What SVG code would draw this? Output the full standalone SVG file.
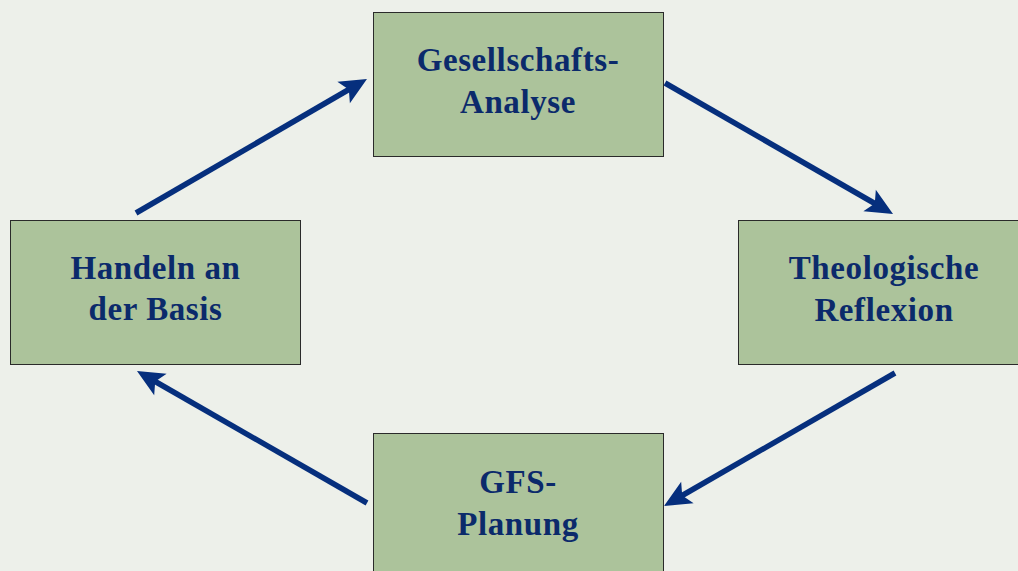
<svg xmlns="http://www.w3.org/2000/svg" width="1018" height="571" viewBox="0 0 1018 571">
<style>
.box{fill:#acc39b;stroke:#2a2a2a;stroke-width:1}
.lbl{font-family:"Liberation Serif","DejaVu Serif",serif;font-weight:bold;font-size:33px;letter-spacing:0.6px;fill:#0b2a6b;text-anchor:middle}
.con{stroke:#062f7d;stroke-width:5.5;fill:none}
</style>
<defs>
<marker id="ah" markerUnits="userSpaceOnUse" markerWidth="44" markerHeight="44" viewBox="-12 -22 44 44" refX="0" refY="0" orient="auto" overflow="visible">
<path d="M18,0 L-9,-12.5 L-3,0 L-9,12.5 Z" fill="#062f7d"/>
</marker>
</defs>
<rect width="1018" height="571" fill="#edf0ea"/>
<g id="connectors">
<line class="con" x1="136" y1="213" x2="351.4" y2="88" marker-end="url(#ah)"/>
<line class="con" x1="665" y1="83" x2="877.4" y2="205" marker-end="url(#ah)"/>
<line class="con" x1="895" y1="373" x2="679.6" y2="497" marker-end="url(#ah)"/>
<line class="con" x1="367" y1="503" x2="152.6" y2="380" marker-end="url(#ah)"/>
</g>
<g id="n-analyse">
<rect class="box" x="373.5" y="12.5" width="290" height="144"/>
<text class="lbl" x="518" y="71">Gesellschafts-</text>
<text class="lbl" x="518" y="113">Analyse</text>
</g>
<g id="n-reflexion">
<rect class="box" x="738.5" y="220.5" width="292" height="144"/>
<text class="lbl" x="884" y="279">Theologische</text>
<text class="lbl" x="884" y="321">Reflexion</text>
</g>
<g id="n-planung">
<rect class="box" x="373.5" y="433.5" width="290" height="144"/>
<text class="lbl" x="518" y="493">GFS-</text>
<text class="lbl" x="518" y="535">Planung</text>
</g>
<g id="n-handeln">
<rect class="box" x="10.5" y="220.5" width="290" height="144"/>
<text class="lbl" x="155.5" y="279">Handeln an</text>
<text class="lbl" x="155.5" y="320">der Basis</text>
</g>
</svg>
